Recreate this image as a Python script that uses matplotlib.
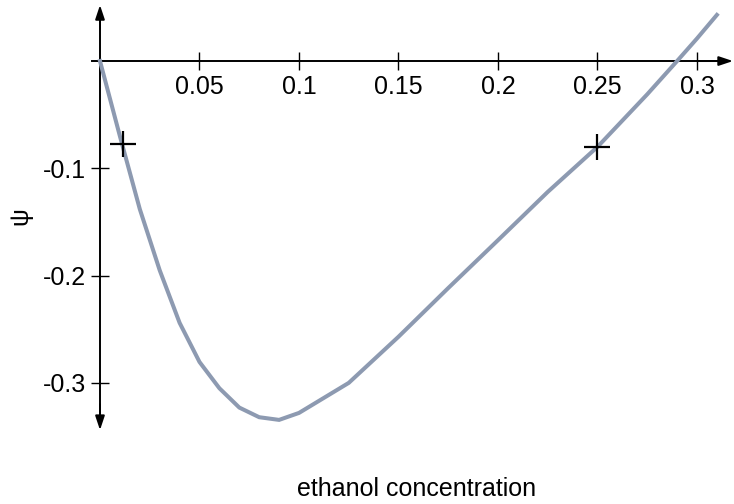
import matplotlib
matplotlib.use("Agg")
import matplotlib.pyplot as plt

plt.rcParams['font.family'] = ['Liberation Sans', 'DejaVu Sans']

# curve
conc = [0.0, 0.01, 0.02, 0.03, 0.04, 0.05, 0.06, 0.07, 0.08, 0.09, 0.1,
        0.125, 0.15, 0.175, 0.2, 0.225, 0.25, 0.275, 0.29, 0.3, 0.31]
psi = [0.0, -0.07, -0.138, -0.195, -0.244, -0.2805, -0.305, -0.323, -0.332, -0.3345, -0.328,
       -0.300, -0.257, -0.2116, -0.167, -0.122, -0.080, -0.031, 0.0, 0.021, 0.043]

mark_x = [0.0116, 0.25]
mark_y = [-0.077, -0.080]

xticks = [0.05, 0.1, 0.15, 0.2, 0.25, 0.3]
xtick_labels = ["0.05", "0.1", "0.15", "0.2", "0.25", "0.3"]
yticks = [-0.1, -0.2, -0.3]
ytick_labels = ["-0.1", "-0.2", "-0.3"]

fig = plt.figure(figsize=(7.34, 5.04), dpi=100)
ax = fig.add_axes([0, 0, 1, 1])
ax.set_xlim(-0.05025, 0.3186)
ax.set_ylim(-0.4129, 0.0569)

ax.plot(conc, psi, color='#8d9ab1', lw=2.9, solid_joinstyle='miter', zorder=3)
ax.plot(mark_x, mark_y, ls='none', marker='+', ms=19, mew=1.6, color='black', zorder=4)

# axes through the origin
for side in ['top', 'right']:
    ax.spines[side].set_visible(False)
ax.spines['left'].set_position(('data', 0))
ax.spines['bottom'].set_position(('data', 0))
ax.spines['left'].set_bounds(-0.335, 0.045)
ax.spines['bottom'].set_bounds(-0.004, 0.312)
ax.spines['left'].set_linewidth(1.4)
ax.spines['bottom'].set_linewidth(1.4)

arrow = dict(arrowstyle='-|>,head_length=0.6,head_width=0.2', color='black', lw=1.4,
             mutation_scale=14, shrinkA=0, shrinkB=0)
ax.annotate('', xy=(0.3181, 0), xytext=(0.30, 0), arrowprops=arrow)
ax.annotate('', xy=(0, 0.0522), xytext=(0, 0.03), arrowprops=arrow)
ax.annotate('', xy=(0, -0.344), xytext=(0, -0.32), arrowprops=arrow)

ax.set_xticks(xticks)
ax.set_xticklabels(xtick_labels)
ax.set_yticks(yticks)
ax.set_yticklabels(ytick_labels)
ax.tick_params(direction='inout', length=13, width=1, labelsize=18, pad=3.5)

fig.text(20 / 734, 1 - 216 / 504, 'ψ', rotation=90, fontsize=18, ha='center', va='center')
fig.text(417 / 734, 1 - 489 / 504, 'ethanol concentration', fontsize=18, ha='center', va='center')

fig.savefig('out.png', dpi=100)
